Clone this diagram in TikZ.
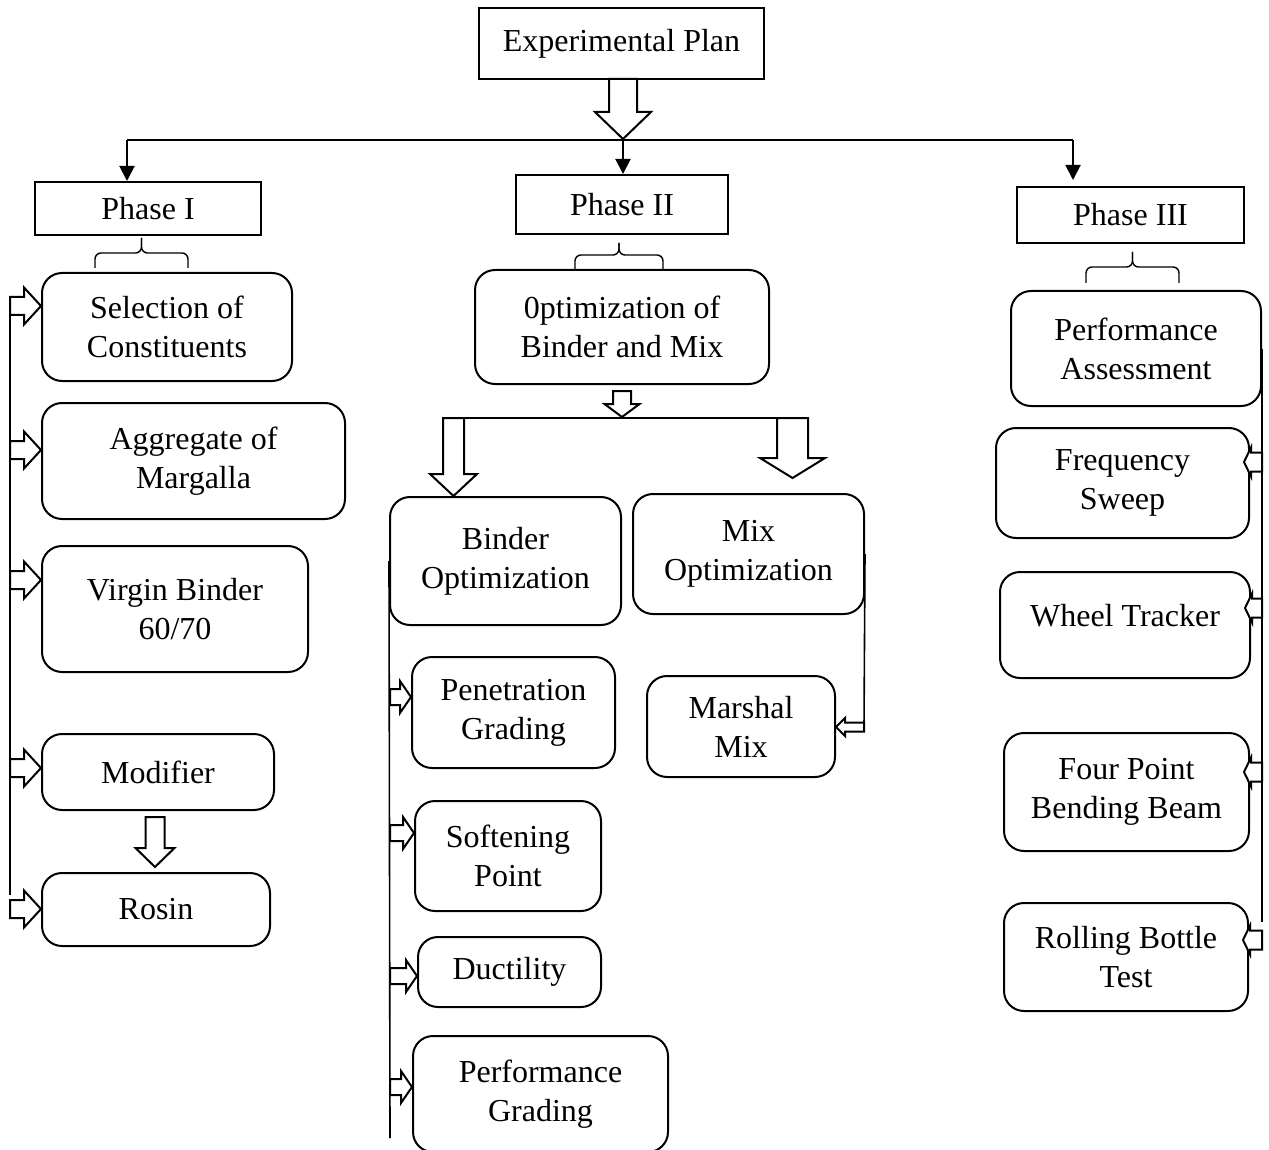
\documentclass[tikz,border=0pt]{standalone}
\usepackage{fontspec}
\setmainfont{Liberation Serif}
\usetikzlibrary{positioning,arrows.meta,calc}

% hollow block arrow: start, end, shaft half width, head half width, head length
\newcommand{\hollowar}[5]{%
  \coordinate (ha-s) at #1; \coordinate (ha-e) at #2;
  \coordinate (ha-b) at ($(ha-e)!#5!(ha-s)$);
  \draw[hol] ($(ha-s)!#3!90:(ha-e)$) -- ($(ha-b)!#3!-90:(ha-s)$) -- ($(ha-b)!#4!-90:(ha-s)$)
    -- (ha-e) -- ($(ha-b)!#4!90:(ha-s)$) -- ($(ha-b)!#3!90:(ha-s)$) -- ($(ha-s)!#3!-90:(ha-e)$) -- cycle;}

\begin{document}
\begin{tikzpicture}[x=0.5pt,y=-0.5pt,>={Triangle[length=7.5pt,width=7.5pt]},
    sbox/.style={rectangle,draw,line width=1pt,inner sep=0pt,align=center,
                 font=\fontsize{16}{19.5}\selectfont},
    rbox/.style={sbox,rounded corners=10pt},
    wh/.style 2 args={minimum width=#1*0.5pt,minimum height=#2*0.5pt},
    hol/.style={draw,line width=1pt,fill=white,line join=miter},
    spine/.style={line width=0.8pt},
    brc/.style={line width=0.7pt,rounded corners=3pt}]
  \useasboundingbox (0,0) rectangle (1269,1150);

  % top
  \node[sbox,wh={285}{71}] (plan) at (621.5,43.5) {Experimental Plan};
  \node[sbox,wh={226}{53}] (ph1) at (148,208.5) {Phase I};
  \node[sbox,wh={212}{59}] (ph2) at (622,204.5) {Phase II};
  \node[sbox,wh={227}{56}] (ph3) at (1130.5,215) {Phase III};
  \hollowar{(623,79)}{(623,139)}{7pt}{14pt}{13.5pt}
  \coordinate (bl) at (127,140); \coordinate (bm) at (623,140); \coordinate (br) at (1073,140);
  \draw[line width=0.6pt] (bl) -- (br);
  \draw[->,line width=1pt] (bl) -- (bl |- ph1.north);
  \draw[->,line width=1pt] (bm) -- (bm |- ph2.north);
  \draw[->,line width=1pt] (br) -- ($(br |- ph3.north)+(0,-6)$);
  % braces under the phases
  \foreach \a/\b/\e/\m/\t in {95/188/268/253/238,575/663/269/255/243,1086/1179/283/267/252}{
    \draw[brc] (\a,\e) |- ({(\a+\b)/2},\m) -- ({(\a+\b)/2},\t);
    \draw[brc] (\b,\e) |- ({(\a+\b)/2},\m) -- ({(\a+\b)/2},\t);}

  % Phase I
  \node[rbox,wh={250}{108}] (sel) at (167,327) {Selection of\\Constituents};
  \node[rbox,wh={303}{116}] (agg) at (193.5,461) {Aggregate of\\Margalla};
  \node[rbox,wh={266}{126}] (virg) at (175,609) {Virgin Binder\\60/70};
  \node[rbox,wh={232}{76}] (modi) at (158,772) {Modifier};
  \node[rbox,wh={228}{73}] (rosin) at (156,909.5) {Rosin};
  \draw[spine] (10,300) -- (10,895);
  \foreach \n/\y in {sel/306,agg/450,virg/580,modi/768,rosin/909}
    {\hollowar{(10,\y)}{(\n.west |- 10,\y)}{4.5pt}{9.25pt}{8.5pt}}
  \hollowar{(155,817)}{(155,867)}{4.75pt}{9.75pt}{9.5pt}

  % Phase II
  \node[rbox,wh={294}{114}] (optim) at (622,327) {0ptimization of\\Binder and Mix};
  \node[rbox,wh={231}{128}] (bopt) at (505.5,561) {Binder\\Optimization};
  \node[rbox,wh={231}{120}] (mopt) at (748.5,554) {Mix\\Optimization};
  \node[rbox,wh={203}{111}] (pen) at (513.5,712.5) {Penetration\\Grading};
  \node[rbox,wh={186}{110}] (soft) at (508,856) {Softening\\Point};
  \node[rbox,wh={183}{70}] (duct) at (509.5,972) {Ductility};
  \node[rbox,wh={255}{116}] (pgrad) at (540.5,1094) {Performance\\Grading};
  \node[rbox,wh={188}{101}] (marsh) at (741,726.5) {Marshal\\Mix};
  \hollowar{(622,391)}{(622,417)}{4.5pt}{8.75pt}{6.5pt}
  \coordinate (sl) at (443,418); \coordinate (sr) at (808,418);
  \draw[line width=0.8pt] (sl) -- (sr);
  \hollowar{(453.5,418)}{(bopt.north -| 453.5,418)}{5.25pt}{11.75pt}{11pt}
  \hollowar{(792.5,418)}{($(mopt.north -| 792.5,418)+(0,-15)$)}{7.75pt}{16.25pt}{10pt}
  \draw[spine] (bopt.west) -- (390,1138);
  \foreach \n/\y in {pen/697,soft/833,duct/976,pgrad/1087}
    {\hollowar{(390,\y)}{(\n.west |- 390,\y)}{4pt}{8pt}{5.5pt}}
  \coordinate (mk) at (864,727);
  \draw[spine] (mopt.east) -- (mk);
  \hollowar{(mk)}{(mk -| marsh.east)}{2.25pt}{4.5pt}{4.5pt}

  % Phase III
  \node[rbox,wh={250}{115}] (passess) at (1136,348.5) {Performance\\Assessment};
  \node[rbox,wh={253}{110}] (freq) at (1122.5,483) {Frequency\\Sweep};
  \node[rbox,wh={250}{106}] (wheel) at (1125,625) {\raisebox{10pt}{Wheel Tracker}};
  \node[rbox,wh={245}{118}] (four) at (1126.5,792) {Four Point\\Bending Beam};
  \node[rbox,wh={244}{108}] (roll) at (1126,957) {Rolling Bottle\\Test};
  \draw[spine] (passess.east) -- (1262,922);
  \foreach \n/\y in {freq/462,wheel/608,four/772,roll/940}
    {\hollowar{(1262,\y)}{($(\n.east |- 1262,\y)+(-6,0)$)}{4.75pt}{7.25pt}{3.5pt}}
\end{tikzpicture}
\end{document}
